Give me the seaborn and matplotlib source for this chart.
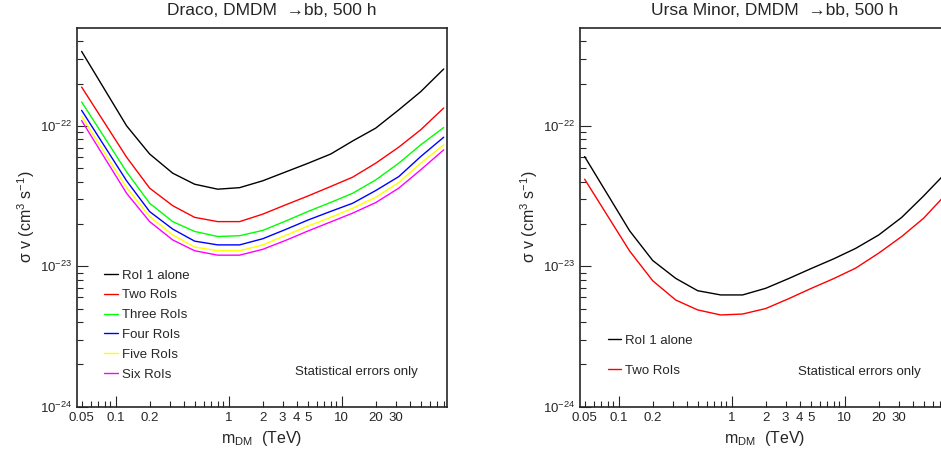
import matplotlib
matplotlib.use("Agg")
import numpy as np
import pandas as pd
import matplotlib.pyplot as plt
import seaborn as sns
from matplotlib.ticker import (FixedLocator, FixedFormatter, FuncFormatter,
                               LogFormatterSciNotation, NullFormatter)

# === Data ===
mass = [0.05, 0.125, 0.2, 0.32, 0.5, 0.8, 1.25, 2, 3.2, 5, 8, 12.5, 20, 32, 50, 80]

draco_roi1 = [3.39e-22, 1.0e-22, 6.3e-23, 4.6e-23, 3.84e-23, 3.54e-23, 3.63e-23, 4.06e-23,
              4.7e-23, 5.4e-23, 6.3e-23, 7.8e-23, 9.63e-23, 1.3e-22, 1.75e-22, 2.54e-22]
draco_two = [1.89e-22, 5.98e-23, 3.6e-23, 2.7e-23, 2.23e-23, 2.08e-23, 2.08e-23, 2.35e-23,
             2.74e-23, 3.16e-23, 3.7e-23, 4.31e-23, 5.42e-23, 7.05e-23, 9.37e-23, 1.34e-22]
draco_three = [1.48e-22, 4.7e-23, 2.81e-23, 2.08e-23, 1.77e-23, 1.63e-23, 1.65e-23, 1.8e-23,
               2.1e-23, 2.45e-23, 2.85e-23, 3.31e-23, 4.12e-23, 5.42e-23, 7.32e-23, 9.73e-23]
draco_four = [1.29e-22, 4.06e-23, 2.45e-23, 1.84e-23, 1.51e-23, 1.42e-23, 1.42e-23, 1.57e-23,
              1.83e-23, 2.13e-23, 2.46e-23, 2.81e-23, 3.46e-23, 4.35e-23, 6.04e-23, 8.3e-23]
draco_five = [1.17e-22, 3.63e-23, 2.26e-23, 1.67e-23, 1.37e-23, 1.29e-23, 1.29e-23, 1.42e-23,
              1.66e-23, 1.93e-23, 2.23e-23, 2.59e-23, 3.1e-23, 3.95e-23, 5.42e-23, 7.32e-23]
draco_six = [1.09e-22, 3.31e-23, 2.08e-23, 1.54e-23, 1.29e-23, 1.2e-23, 1.2e-23, 1.32e-23,
             1.53e-23, 1.78e-23, 2.07e-23, 2.39e-23, 2.84e-23, 3.6e-23, 4.86e-23, 6.75e-23]

umi_roi1 = [6.04e-23, 1.79e-23, 1.1e-23, 8.2e-24, 6.7e-24, 6.25e-24, 6.25e-24, 6.97e-24,
            8.18e-24, 9.6e-24, 1.13e-23, 1.34e-23, 1.67e-23, 2.23e-23, 3.17e-23, 4.7e-23]
umi_two = [4.17e-23, 1.285e-23, 7.89e-24, 5.75e-24, 4.89e-24, 4.5e-24, 4.57e-24, 5.0e-24,
           5.88e-24, 6.93e-24, 8.17e-24, 9.7e-24, 1.24e-23, 1.63e-23, 2.2e-23, 3.3e-23]

labels = ["RoI 1 alone", "Two RoIs", "Three RoIs", "Four RoIs", "Five RoIs", "Six RoIs"]
colors = ["#000000", "#ff0000", "#00ff00", "#0000ff", "#ffff00", "#ff00ff"]

draco = [draco_roi1, draco_two, draco_three, draco_four, draco_five, draco_six]
umi = [umi_roi1, umi_two]


def to_long(series_list, names):
    frames = []
    for name, vals in zip(names, series_list):
        frames.append(pd.DataFrame({"mass": mass, "sigmav": vals, "series": name}))
    return pd.concat(frames, ignore_index=True)


# === Style ===
sns.set_style("ticks")
plt.rcParams["font.family"] = ["Liberation Sans", "DejaVu Sans"]
plt.rcParams["mathtext.fontset"] = "custom"
plt.rcParams["mathtext.rm"] = "Liberation Sans"
plt.rcParams["mathtext.it"] = "Liberation Sans:italic"
plt.rcParams["mathtext.default"] = "regular"
plt.rcParams["axes.unicode_minus"] = False

minor_x = [0.05, 0.06, 0.07, 0.08, 0.09] + [i / 10 for i in range(2, 10)] + \
          list(range(2, 10)) + list(range(20, 90, 10))
minor_lab = {"0.05", "0.2", "2", "3", "4", "5", "20", "30"}
major_y = [1e-24, 1e-23, 1e-22]
minor_y = [k * 1e-24 for k in range(2, 10)] + [k * 1e-23 for k in range(2, 10)] + \
          [k * 1e-22 for k in range(2, 5)]


def style_axes(ax):
    ax.set_xscale("log")
    ax.set_yscale("log")
    ax.set_xlim(0.0455, 85)
    ax.set_ylim(1e-24, 5e-22)
    ax.xaxis.set_major_locator(FixedLocator([0.1, 1, 10]))
    ax.xaxis.set_major_formatter(FixedFormatter(["0.1", "1", "10"]))
    ax.xaxis.set_minor_locator(FixedLocator(minor_x))
    ax.xaxis.set_minor_formatter(FuncFormatter(
        lambda v, p: f"{v:g}" if f"{v:g}" in minor_lab else ""))
    ax.yaxis.set_major_locator(FixedLocator(major_y))
    ax.yaxis.set_major_formatter(LogFormatterSciNotation())
    ax.yaxis.set_minor_locator(FixedLocator(minor_y))
    ax.yaxis.set_minor_formatter(NullFormatter())
    ax.tick_params(which="both", direction="in", top=False, right=False,
                   labelsize=9.5, width=0.8, pad=3.5)
    ax.tick_params(which="major", length=8)
    ax.tick_params(which="minor", length=4.3)
    for sp in ax.spines.values():
        sp.set_linewidth(1.2)
    ax.set_xlabel(r"m$_{\mathrm{DM}}$  (TeV)", fontsize=11.5)
    ax.set_ylabel(r"σ v (cm$^{3}$ s$^{-1}$)", fontsize=11.5)
    ax.yaxis.set_label_coords(-0.107, 0.5)
    ax.xaxis.set_label_coords(0.5, -0.058)
    ax.text(0.59, 0.092, "Statistical errors only", transform=ax.transAxes,
            fontsize=9.5, va="center", ha="left")


fig = plt.figure(figsize=(9.41, 4.57), dpi=100)
ax1 = fig.add_axes([77 / 941, 1 - 406.7 / 457, 369.7 / 941, 379 / 457])
ax2 = fig.add_axes([580 / 941, 1 - 406.7 / 457, 369.7 / 941, 379 / 457])

# === Draco ===
df1 = to_long(draco, labels)
sns.lineplot(data=df1, x="mass", y="sigmav", hue="series", hue_order=labels,
             palette=colors, estimator=None, linewidth=1.0, ax=ax1)
style_axes(ax1)
ax1.set_title("Draco, DMDM  \u2192bb, 500 h", fontsize=12.5, x=0.527, pad=9)
h, l = ax1.get_legend_handles_labels()
ax1.legend(h, l, loc="upper left", bbox_to_anchor=(0.074, 0.362), frameon=False,
           fontsize=9.5, handlelength=1.0, handletextpad=0.3, labelspacing=0.57,
           borderpad=0, borderaxespad=0)

# === Ursa Minor ===
df2 = to_long(umi, labels[:2])
sns.lineplot(data=df2, x="mass", y="sigmav", hue="series", hue_order=labels[:2],
             palette=colors[:2], estimator=None, linewidth=1.0, ax=ax2)
style_axes(ax2)
ax2.set_title("Ursa Minor, DMDM  \u2192bb, 500 h", fontsize=12.5, x=0.527, pad=9)
h, l = ax2.get_legend_handles_labels()
ax2.legend(h, l, loc="upper left", bbox_to_anchor=(0.075, 0.19), frameon=False,
           fontsize=9.5, handlelength=1.0, handletextpad=0.3, labelspacing=1.32,
           borderpad=0, borderaxespad=0)

fig.savefig("out.png", dpi=100)
